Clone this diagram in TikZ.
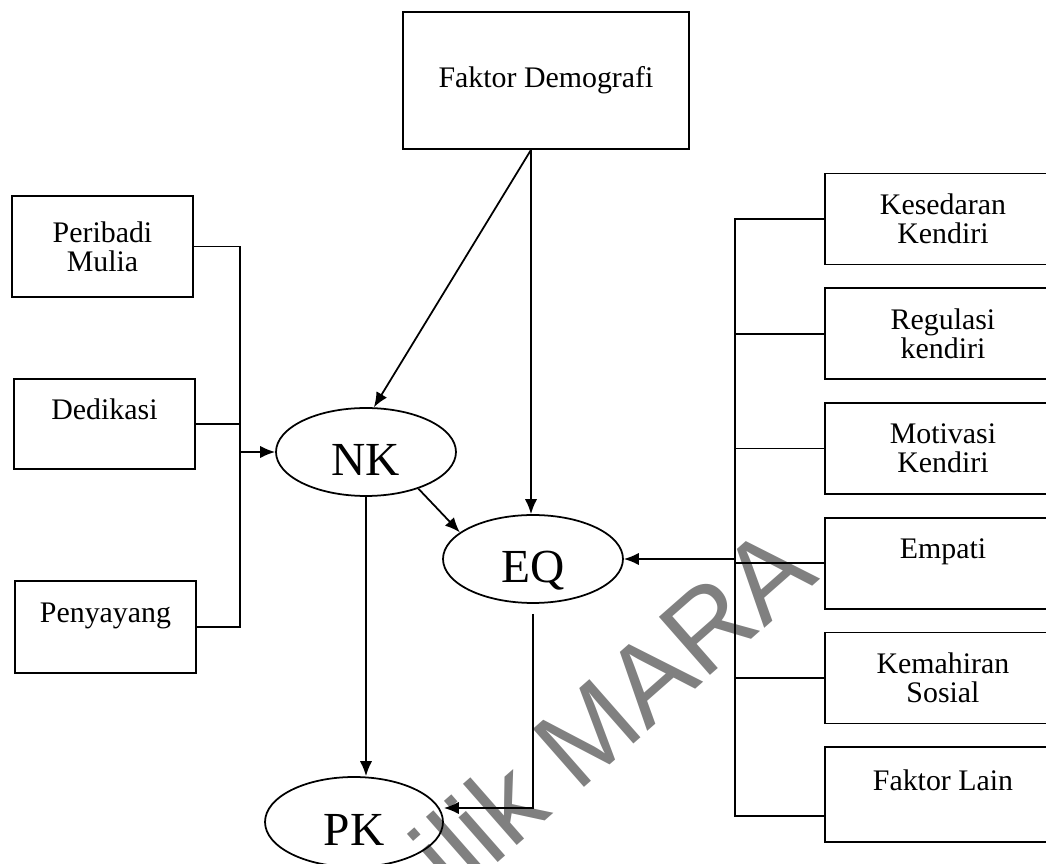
\documentclass[tikz,border=0pt]{standalone}
\usepackage{fontspec}
\setmainfont{Liberation Serif}
\newfontfamily\wmfont{Liberation Sans}
\usetikzlibrary{arrows.meta, positioning, shapes.geometric, calc}

\begin{document}
\begin{tikzpicture}[x=0.02cm, y=-0.02cm, >={Latex[length=8.5pt,width=7pt]}, line width=1pt,
	Box/.style={draw, rectangle, align=center, inner sep=0pt,
		font=\fontsize{17}{16.5}\selectfont},
	LBox/.style={Box, minimum width=3.62cm, minimum height=1.84cm},
	RBox/.style={Box, minimum width=4.72cm, minimum height=1.82cm},
	Var/.style={draw, ellipse, inner sep=0pt, minimum width=3.6cm,
		minimum height=1.76cm, text height=0.95cm, text depth=0pt,
		font=\fontsize{27}{27}\selectfont},
	Mark/.style={text=black!50, inner sep=0pt,
		font=\wmfont\fontsize{64}{64}\selectfont}]
	\useasboundingbox (0,0) rectangle (1046,864);
	\clip (0,0) rectangle (1046,864);
	% watermark, behind everything
	\node[Mark, rotate=41.3, anchor=base east] (wm) at (822,578) {Hakmilik MARA};
	% top box
	\node[Box, minimum width=5.72cm, minimum height=2.74cm] (fd) at (546,80.5) {Faktor Demografi};
	% left boxes
	\node[LBox, minimum height=2.02cm] (pm) at (102.5,246.5) {Peribadi\\Mulia};
	\node[LBox, minimum height=1.8cm] (dk) at (104.5,424) {Dedikasi\\\mbox{}};
	\node[LBox] (py) at (105.5,627) {Penyayang\\\mbox{}};
	% right boxes
	\node[RBox] (ks) at (943,219) {Kesedaran\\Kendiri};
	\node[RBox, below=0.44cm of ks] (rg) {Regulasi\\kendiri};
	\node[RBox, below=0.44cm of rg] (mv) {Motivasi\\Kendiri};
	\node[RBox, below=0.44cm of mv] (em) {Empati\\\mbox{}};
	\node[RBox, below=0.44cm of em] (kh) {Kemahiran\\Sosial};
	\node[RBox, below=0.44cm of kh, minimum height=1.9cm] (fl) {Faktor Lain\\\mbox{}};
	% variables
	\node[Var] (nk) at (366,452) {NK};
	\node[Var] (eq) at (533,559) {EQ};
	\node[Var, minimum width=3.56cm, minimum height=1.8cm] (pk) at (354,822) {PK};
	% helper points
	\coordinate (lbus) at (240,0);
	\coordinate (rbus) at (735,0);
	\coordinate (fdo) at ([xshift=-0.3cm]fd.south);
	\coordinate (flin) at ([yshift=-0.42cm]fl.west);
	\coordinate (pkin) at ([yshift=0.28cm]pk.east);
	% left tree
	\draw (pm.east) -- (pm.east -| lbus) -- (py.east -| lbus) -- (py.east);
	\draw (dk.east) -- (dk.east -| lbus);
	\draw[->] (nk.west -| lbus) -- (nk.west);
	% right tree
	\draw (ks.west) -- (ks.west -| rbus) -- (flin -| rbus) -- (flin);
	\foreach \n in {rg, mv, em, kh}
		\draw (\n.west) -- (\n.west -| rbus);
	\draw[->] (eq.east -| rbus) -- (eq.east);
	% paths between variables
	\draw[->] (fdo) -- (nk.80);
	\draw[->] (fdo) -- (fdo |- eq.north);
	\draw[->] (nk.-35) -- (eq.160);
	\draw[->] (nk.south) -- (nk.south |- pk.north);
	\draw[->] ([yshift=-0.2cm]eq.south) |- (pkin);
\end{tikzpicture}
\end{document}
